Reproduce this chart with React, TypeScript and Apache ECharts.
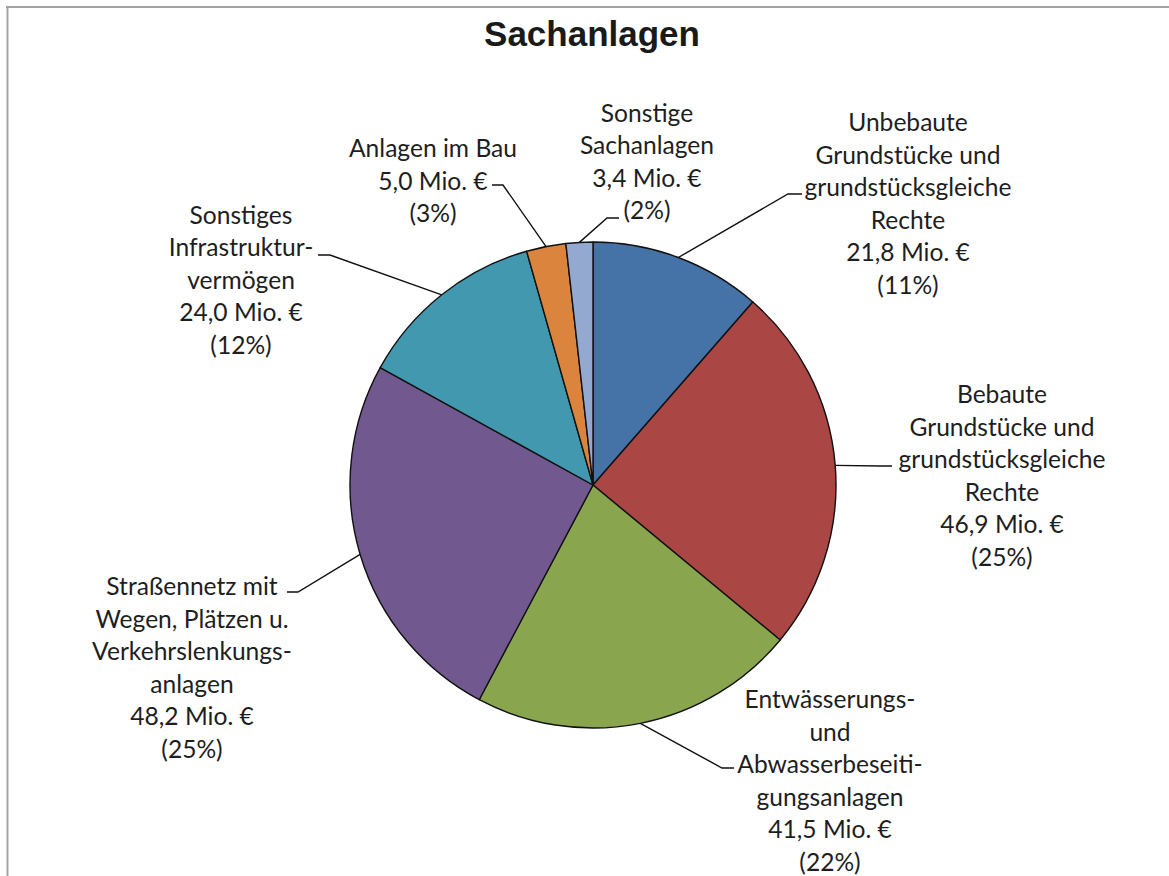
import React, { useEffect, useRef } from "react";
import * as echarts from "echarts";

// ---- data ----
const categories = [
  "Unbebaute\nGrundstücke und\ngrundstücksgleiche\nRechte",
  "Bebaute\nGrundstücke und\ngrundstücksgleiche\nRechte",
  "Entwässerungs-\nund\nAbwasserbeseiti-\ngungsanlagen",
  "Straßennetz mit\nWegen, Plätzen u.\nVerkehrslenkungs-\nanlagen",
  "Sonstiges\nInfrastruktur-\nvermögen",
  "Anlagen im Bau",
  "Sonstige\nSachanlagen",
];
const valuesMio = [21.8, 46.9, 41.5, 48.2, 24.0, 5.0, 3.4];
const percentLabels = [11, 25, 22, 25, 12, 3, 2];
const colors = ["#4572A7", "#AA4643", "#89A54E", "#71588F", "#4198AF", "#DB843D", "#93A9CF"];

// ---- layout (label block centres and leader-line bends, in px) ----
const CENTER = [593, 485];
const RADIUS = 243;
const labelPlacement = [
  { x: 908, y: 203, elbow: [788, 194], end: [802, 194] },
  { x: 1002, y: 475, elbow: [880, 466], end: [892, 466] },
  { x: 830, y: 780, elbow: [722, 768], end: [734, 768] },
  { x: 192, y: 667, elbow: [298, 592], end: [287, 592] },
  { x: 241, y: 279, elbow: [330, 255], end: [318, 255] },
  { x: 433, y: 180, elbow: [503, 185], end: [492, 185] },
  { x: 647, y: 161, elbow: [607, 218], end: [619, 218] },
];

export default function App() {
  const ref = useRef<HTMLDivElement>(null);
  useEffect(() => {
    if (!ref.current) return;
    const chart = echarts.init(ref.current, undefined, { renderer: "svg" });
    const total = valuesMio.reduce((a, b) => a + b, 0);
    const startPoint = (i: number) => {
      let before = 0;
      for (let k = 0; k < i; k++) before += valuesMio[k];
      const mid = ((before + valuesMio[i] / 2) / total) * Math.PI * 2;
      return [CENTER[0] + RADIUS * Math.sin(mid), CENTER[1] - RADIUS * Math.cos(mid)];
    };
    chart.setOption({
      animation: false,
      backgroundColor: "#ffffff",
      graphic: [
        { type: "line", shape: { x1: 6, y1: 7, x2: 1169, y2: 7 }, style: { stroke: "#a3a3a3", lineWidth: 2 } },
        { type: "line", shape: { x1: 7.5, y1: 6, x2: 7.5, y2: 876 }, style: { stroke: "#a3a3a3", lineWidth: 2 } },
        {
          type: "text",
          x: 592,
          y: 33,
          style: {
            text: "Sachanlagen",
            textAlign: "center",
            textVerticalAlign: "middle",
            fontFamily: "Liberation Sans",
            fontWeight: "bold",
            fontSize: 35,
            fill: "#1a1a1a",
          },
        },
      ],
      series: [
        {
          type: "pie",
          center: CENTER,
          radius: RADIUS,
          startAngle: 90,
          clockwise: true,
          avoidLabelOverlap: false,
          itemStyle: { borderColor: "#111111", borderWidth: 1.4 },
          emphasis: { disabled: true },
          label: {
            show: true,
            position: "outside",
            overflow: "none",
            fontFamily: "Lato",
            fontSize: 24.6,
            lineHeight: 32.5,
            color: "#1e1e1e",
            align: "center",
            formatter: (p: any) =>
              `${categories[p.dataIndex]}\n${valuesMio[p.dataIndex].toFixed(1).replace(".", ",")} Mio. €\n(${percentLabels[p.dataIndex]}%)`,
          },
          labelLine: { show: true, length: 20, length2: 10, lineStyle: { color: "#111111", width: 1.4 } },
          labelLayout: (params: any) => {
            const i = params.dataIndex;
            const pl = labelPlacement[i];
            const s = startPoint(i);
            return {
              x: pl.x,
              y: pl.y,
              align: "center",
              verticalAlign: "middle",
              labelLinePoints: [s, pl.elbow, pl.end],
            };
          },
          data: valuesMio.map((v, i) => ({ value: v, name: categories[i], itemStyle: { color: colors[i] } })),
        },
      ],
    });
    return () => chart.dispose();
  }, []);
  return <div ref={ref} style={{ position: "fixed", left: 0, top: 0, width: 1169, height: 876 }} />;
}
